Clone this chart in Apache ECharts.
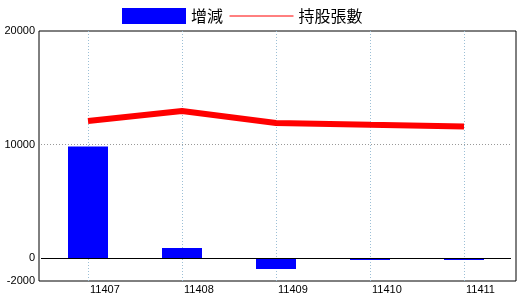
<!DOCTYPE html>
<html>
<head>
<meta charset="utf-8">
<script src="https://cdn.jsdelivr.net/npm/echarts@6/dist/echarts.min.js"></script>
<style>html,body{margin:0;padding:0;background:#fff}#c{width:520px;height:300px}</style>
</head>
<body>
<div id="c"></div>
<script>
const categories = ['11407', '11408', '11409', '11410', '11411'];
const changeValues = [9830, 900, -940, -150, -150];
const holdingValues = [12080, 12960, 11910, 11740, 11590];
const yLabelValues = [-2000, 0, 10000, 20000];
const seriesNames = ['增減', '持股張數'];

const chart = echarts.init(document.getElementById('c'), null, {renderer: 'canvas'});
const yMin = -2000, yMax = 20000;
chart.setOption({
  animation: false,
  backgroundColor: '#fff',
  textStyle: {fontFamily: 'Liberation Sans'},
  legend: {
    left: 117, top: 3,
    itemWidth: 64, itemHeight: 16, itemGap: 6,
    textStyle: {fontFamily: 'Noto Sans CJK TC', fontSize: 16, color: '#000'},
    data: [
      {name: seriesNames[0], icon: 'rect'},
      {name: seriesNames[1], lineStyle: {width: 1}, itemStyle: {opacity: 0}}
    ]
  },
  grid: [
    {left: 39, right: 4, top: 31, bottom: 19, show: true, borderColor: '#000', borderWidth: 1, backgroundColor: 'transparent'},
    {left: 41, right: 9, top: 31, bottom: 19}
  ],
  xAxis: [
    {type: 'value', gridIndex: 0, min: 0, max: 1, show: false},
    {type: 'category', gridIndex: 1, data: categories, boundaryGap: true,
     axisLine: {show: false}, axisTick: {show: false},
     axisLabel: {align: 'left', margin: 3, padding: [0, 0, 0, 2], fontSize: 11, color: '#000', fontFamily: 'Liberation Sans'},
     splitLine: {show: true, alignWithLabel: true, lineStyle: {color: '#9cbfd6', type: [1, 2], width: 1}}}
  ],
  yAxis: [
    {type: 'value', gridIndex: 0, min: yMin, max: yMax, interval: 2000,
     axisLine: {show: false}, axisTick: {show: false}, splitLine: {show: false},
     axisLabel: {margin: 4, fontSize: 11, color: '#000', fontFamily: 'Liberation Sans', showMinLabel: true, showMaxLabel: true,
       formatter: v => yLabelValues.indexOf(v) >= 0 ? String(v) : ''}},
    {type: 'value', gridIndex: 1, min: yMin, max: yMax, show: false, splitLine: {show: false}}
  ],
  series: [
    {name: seriesNames[0], type: 'bar', xAxisIndex: 1, yAxisIndex: 1, data: changeValues, barWidth: 40,
     itemStyle: {color: '#0000ff'},
     markLine: {silent: true, symbol: 'none', label: {show: false},
       data: [
         {yAxis: 0, lineStyle: {color: '#000', type: 'solid', width: 1}},
         {yAxis: 10000, lineStyle: {color: '#999', type: [1, 2], width: 1}}
       ]}},
    {name: seriesNames[1], type: 'line', xAxisIndex: 1, yAxisIndex: 1, data: holdingValues, symbol: 'none',
     lineStyle: {color: '#ff0000', width: 6}, itemStyle: {color: '#ff0000'}, z: 5}
  ]
});
</script>
</body>
</html>
